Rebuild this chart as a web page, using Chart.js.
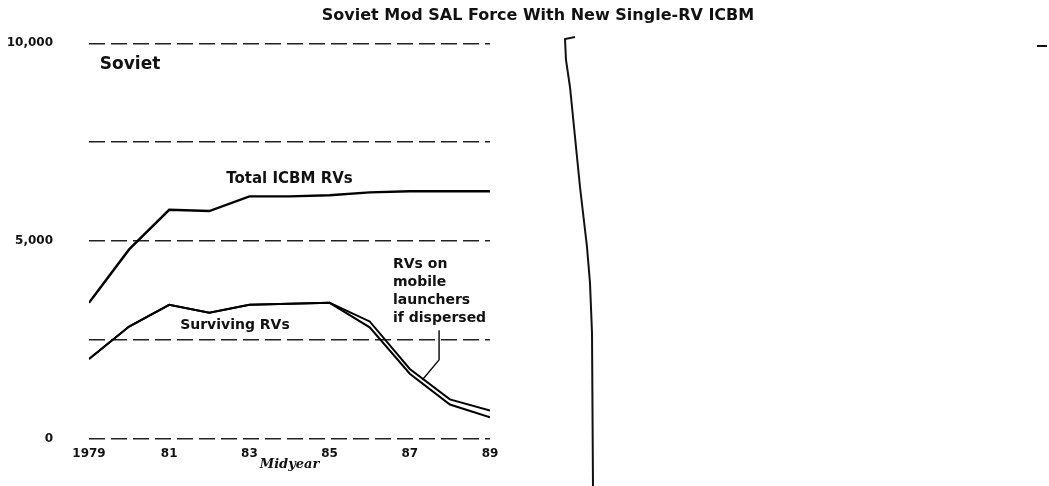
<!DOCTYPE html>
<html>
<head>
<meta charset="utf-8">
<title>Soviet Mod SAL Force With New Single-RV ICBM</title>
<script src="https://cdn.jsdelivr.net/npm/chart.js@4.4.1/dist/chart.umd.min.js"></script>
<style>
  html, body { margin: 0; padding: 0; background: #fff; }
  #wrap { width: 1049px; height: 486px; }
</style>
</head>
<body>
<div id="wrap"><canvas id="chart" width="1049" height="486"></canvas></div>
<script>
// --- data ---
const years = [1979, 1980, 1981, 1982, 1983, 1984, 1985, 1986, 1987, 1988, 1989];
const totalIcbmRVs = [3440, 4790, 5790, 5760, 6130, 6130, 6160, 6230, 6260, 6260, 6260];
const survivingRVs = [2020, 2840, 3390, 3190, 3390, 3420, 3440, 2820, 1650, 870, 550];
const survivingWithMobileRVs = [2020, 2840, 3390, 3190, 3390, 3420, 3440, 2970, 1770, 1000, 720];

// leader from the "RVs on mobile launchers" note down to the gap between the lines
const leaderX = [1987.73, 1987.73, 1987.31];
const leaderY = [2750, 2000, 1490];

const xTickLabels = ['1979', '81', '83', '85', '87', '89'];
const yTickLabels = ['0', '', '5,000', '', '10,000'];

const FONT = "'DejaVu Sans', sans-serif";

const toPoints = (xs, ys) => xs.map((v, i) => ({ x: v, y: ys[i] }));

// --- text notes and the scanned page edge ---
const notesPlugin = {
    id: 'notes',
    afterDatasetsDraw(chart) {
        const { ctx, scales: { x, y } } = chart;
        ctx.save();
        ctx.fillStyle = '#111';
        ctx.textBaseline = 'middle';

        ctx.font = 'bold 17px ' + FONT;
        ctx.textAlign = 'left';
        ctx.fillText('Soviet', x.getPixelForValue(1979.27), y.getPixelForValue(9450));

        ctx.font = 'bold 15px ' + FONT;
        ctx.textAlign = 'center';
        ctx.fillText('Total ICBM RVs', x.getPixelForValue(1984.0), y.getPixelForValue(6560));

        ctx.font = 'bold 14px ' + FONT;
        ctx.fillText('Surviving RVs', x.getPixelForValue(1982.64), y.getPixelForValue(2870));

        ctx.textAlign = 'left';
        const noteLines = ['RVs on', 'mobile', 'launchers', 'if dispersed'];
        const nx = x.getPixelForValue(1986.58);
        const ny = y.getPixelForValue(4410);
        noteLines.forEach((t, i) => ctx.fillText(t, nx, ny + i * 18));

        ctx.restore();
    },
    afterDraw(chart) {
        const { ctx } = chart;
        ctx.save();
        // title, centred over the page rather than the plot
        ctx.fillStyle = '#111';
        ctx.font = 'bold 16px ' + FONT;
        ctx.textAlign = 'center';
        ctx.textBaseline = 'middle';
        ctx.fillText('Soviet Mod SAL Force With New Single-RV ICBM', 538, 16);

        // fold / page edge of the scan
        ctx.strokeStyle = '#111';
        ctx.lineWidth = 2;
        ctx.beginPath();
        ctx.moveTo(575, 37);
        ctx.lineTo(565, 39);
        ctx.lineTo(566, 60);
        ctx.lineTo(570, 87);
        ctx.lineTo(580, 187);
        ctx.lineTo(587, 247);
        ctx.lineTo(590, 283);
        ctx.lineTo(592, 333);
        ctx.lineTo(593, 486);
        ctx.stroke();
        ctx.beginPath();
        ctx.moveTo(1037, 46);
        ctx.lineTo(1047, 46);
        ctx.stroke();
        ctx.restore();
    }
};

const lineStyle = {
    borderColor: '#000',
    pointRadius: 0,
    fill: false,
    tension: 0
};

new Chart(document.getElementById('chart'), {
    type: 'line',
    data: {
        datasets: [
            { ...lineStyle, label: 'Total ICBM RVs', data: toPoints(years, totalIcbmRVs), borderWidth: 2.4 },
            { ...lineStyle, label: 'Surviving RVs', data: toPoints(years, survivingRVs), borderWidth: 2 },
            { ...lineStyle, label: 'Surviving RVs incl. mobile launchers if dispersed', data: toPoints(years, survivingWithMobileRVs), borderWidth: 2 },
            { ...lineStyle, label: 'leader', data: toPoints(leaderX, leaderY), borderWidth: 1.4 }
        ]
    },
    options: {
        responsive: false,
        animation: false,
        layout: { padding: { top: 38, right: 559, bottom: 0, left: 0 } },
        plugins: {
            legend: { display: false },
            title: { display: false },
            tooltip: { enabled: false }
        },
        scales: {
            x: {
                type: 'linear',
                min: 1979,
                max: 1989,
                grid: { display: false, drawTicks: false },
                border: { display: false },
                afterFit: (scale) => { scale.height = 47; },
                ticks: {
                    stepSize: 2,
                    padding: 8,
                    color: '#111',
                    font: { family: FONT, size: 12, weight: 'bold' },
                    callback: (value, index) => xTickLabels[index]
                },
                title: {
                    display: true,
                    text: 'Midyear',
                    color: '#111',
                    padding: { top: 0, bottom: 14 },
                    font: { family: "'DejaVu Serif', serif", size: 13, style: 'italic', weight: 'bold' }
                }
            },
            y: {
                min: 0,
                max: 10000,
                afterFit: (scale) => { scale.width = 89; },
                grid: { color: '#222', lineWidth: 1.4, drawTicks: false },
                border: { display: false, dash: [16, 6] },
                ticks: {
                    stepSize: 2500,
                    padding: 36,
                    color: '#111',
                    font: { family: FONT, size: 12, weight: 'bold' },
                    callback: (value, index) => yTickLabels[index]
                }
            }
        }
    },
    plugins: [notesPlugin]
});
</script>
</body>
</html>
